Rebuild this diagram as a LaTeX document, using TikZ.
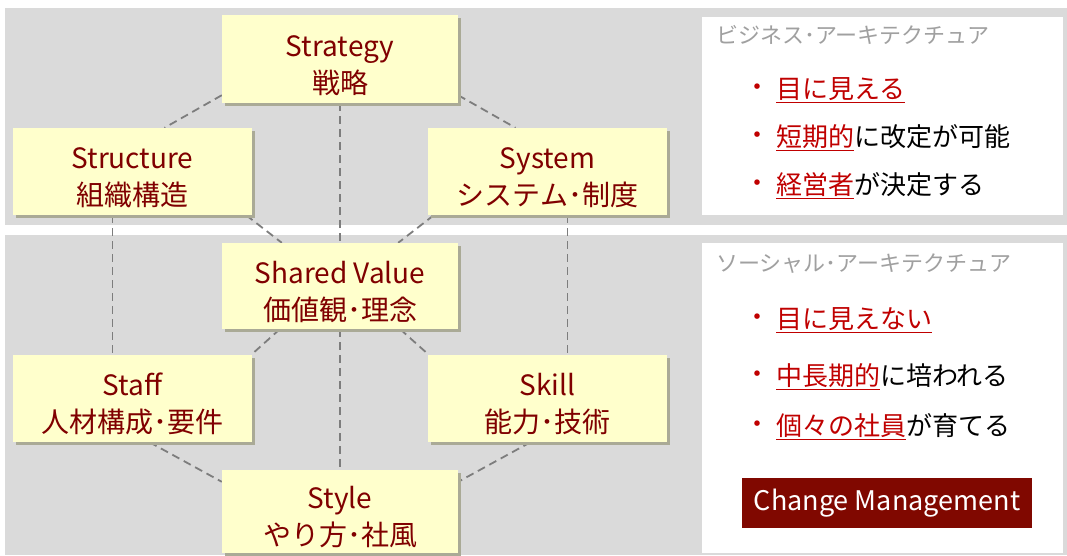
\documentclass[tikz,border=0pt]{standalone}
\usepackage{fontspec}
\setmainfont{Noto Sans CJK JP}
\usetikzlibrary{calc,shadows}
\definecolor{band}{RGB}{218,218,218}
\definecolor{nodefill}{RGB}{255,255,204}
\definecolor{nodetext}{RGB}{128,0,0}
\definecolor{linegray}{RGB}{125,125,125}
\definecolor{redtxt}{RGB}{192,0,0}
\definecolor{hdrgray}{RGB}{160,160,160}
\definecolor{cmfill}{RGB}{128,8,0}
\definecolor{shadowc}{RGB}{170,170,150}
\pgfdeclarelayer{bands}
\pgfdeclarelayer{lines}
\pgfsetlayers{bands,lines,main}
\newcommand\twolines[2]{\raisebox{-14.6pt}[0pt][0pt]{\begin{tabular}{@{}c@{}}#1\\#2\end{tabular}}}
\newcommand\redu[1]{\textcolor{redtxt}{\underline{#1}}}
\tikzset{
  box/.style={fill=nodefill, draw=none, inner sep=0pt, text=nodetext,
    font=\fontsize{28}{37}\selectfont,
    drop shadow={shadow xshift=2.5pt, shadow yshift=-2.5pt, fill=shadowc, opacity=1}},
  wide/.style={minimum width=236pt},
  side/.style={minimum width=239pt},
  conn/.style={draw=linegray, line width=1.8pt, dash pattern=on 8pt off 5pt},
  hdr/.style={anchor=west, inner sep=0pt, text=hdrgray, font=\fontsize{22}{26}\selectfont},
  bul/.style={inner sep=0pt, text=redtxt, font=\fontsize{26}{30}\selectfont},
  item/.style={anchor=west, inner sep=0pt, text=black, font=\fontsize{26}{30}\selectfont},
  cmbox/.style={fill=cmfill, text=white, inner sep=0pt, minimum width=290pt, minimum height=50pt,
    font=\fontsize{27}{30}\selectfont}
}
\begin{document}
\begin{tikzpicture}[x=1pt,y=-1pt]
\useasboundingbox (0,0) rectangle (1067,555);
\begin{pgfonlayer}{bands}
  \fill[white] (0,0) rectangle (1067,555);
  \fill[band] (5,8) rectangle (1067,225);
  \fill[band] (5,235) rectangle (1067,555);
  \fill[white] (702,17) rectangle (1063,215);
  \fill[white] (702,243) rectangle (1063,553);
\end{pgfonlayer}

\node[box, wide, minimum height=88pt] (strategy) at (340,59) {\twolines{Strategy}{戦略}};
\node[box, side, minimum height=87pt] (structure) at (132.5,171.5) {\twolines{Structure}{組織構造}};
\node[box, side, minimum height=87pt] (system) at (547.5,171.5) {\twolines{System}{システム･制度}};
\node[box, wide, minimum height=86pt] (shared) at (340,286) {\twolines{Shared Value}{価値観･理念}};
\node[box, side, minimum height=87pt] (staff) at (132.5,398.5) {\twolines{Staff}{人材構成･要件}};
\node[box, side, minimum height=87pt] (skill) at (547.5,398.5) {\twolines{Skill}{能力･技術}};
\node[box, wide, minimum height=83pt] (style) at (340,511.5) {\twolines{Style}{やり方･社風}};

\begin{pgfonlayer}{lines}
  \draw[conn] ($(strategy.south west)+(0,-8)$) -- ($(structure.north)+(32,0)$);
  \draw[conn] ($(strategy.south east)+(0,-8)$) -- ($(system.north)+(-32,0)$);
  \draw[conn] (strategy.south) -- (shared.north);
  \draw[conn] ($(structure.south)+(-20,0)$) -- ($(staff.north)+(-20,0)$);
  \draw[conn] ($(system.south)+(20,0)$) -- ($(skill.north)+(20,0)$);
  \draw[conn] ($(structure.south east)+(-6,0)$) -- ($(shared.north west)+(60,0)$);
  \draw[conn] ($(system.south west)+(6,0)$) -- ($(shared.north east)+(-60,0)$);
  \draw[conn] ($(shared.south west)+(58,0)$) -- ($(staff.north east)+(-1,0)$);
  \draw[conn] ($(shared.south east)+(-58,0)$) -- ($(skill.north west)+(1,0)$);
  \draw[conn] (shared.south) -- (style.north);
  \draw[conn] ($(staff.south)+(17,0)$) -- ($(style.north west)+(0,12)$);
  \draw[conn] ($(skill.south)+(-17,0)$) -- ($(style.north east)+(0,12)$);
\end{pgfonlayer}

\node[hdr] (h1) at (716,35) {ビジネス･アーキテクチュア};
\node[bul] (b1) at (757,90) {・};
\node[item] (t1) at (776,90) {\redu{目に見える}};
\node[bul] (b2) at (757,138) {・};
\node[item] (t2) at (776,138) {\redu{短期的}に改定が可能};
\node[bul] (b3) at (757,186) {・};
\node[item] (t3) at (776,186) {\redu{経営者}が決定する};

\node[hdr] (h2) at (716,264) {ソーシャル･アーキテクチュア};
\node[bul] (b4) at (757,320) {・};
\node[item] (t4) at (776,320) {\redu{目に見えない}};
\node[bul] (b5) at (757,377) {・};
\node[item] (t5) at (776,377) {\redu{中長期的}に培われる};
\node[bul] (b6) at (757,427) {・};
\node[item] (t6) at (776,427) {\redu{個々の社員}が育てる};

\node[cmbox] (cm) at (887,503) {Change Management};
\end{tikzpicture}
\end{document}
